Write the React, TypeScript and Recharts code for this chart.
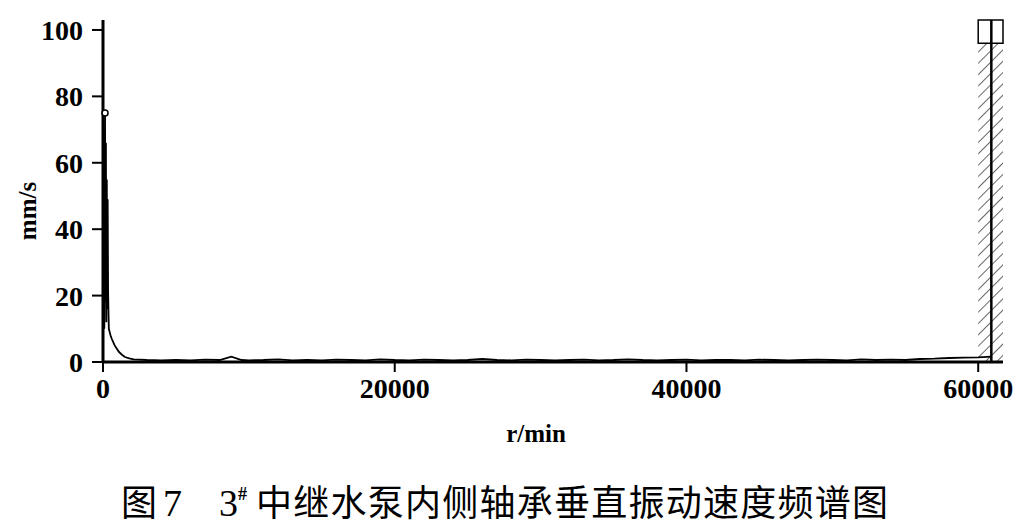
import { Line, LineChart, ReferenceArea, ReferenceDot, ReferenceLine, XAxis, YAxis } from "recharts";

// spectrum points: speed (r/min) and vibration velocity (mm/s)
const rpm = [
  0, 30, 60, 90, 120, 140, 170, 200, 230, 260, 290, 320, 350, 400, 460, 520, 600, 700, 800,
  950, 1100, 1300, 1500, 1800, 2100, 2500, 3000, 4000, 5000, 6000, 7000, 8000, 8800, 9500,
  10000, 11000, 12000, 13000, 14000, 15000, 16000, 17000, 18000, 19000, 20000, 21000, 22000,
  23000, 24000, 25000, 26000, 27000, 28000, 29000, 30000, 31000, 32000, 33000, 34000, 35000,
  36000, 37000, 38000, 39000, 40000, 41000, 42000, 43000, 44000, 45000, 46000, 47000, 48000,
  49000, 50000, 51000, 52000, 53000, 54000, 55000, 56000, 57000, 58000, 59000, 60000, 60900,
];
const velocity = [
  0, 28, 62, 10, 58, 75, 18, 66, 12, 55, 16, 49, 21, 10, 9, 8, 7, 6, 5,
  4, 3, 2.2, 1.5, 1.1, 0.8, 0.7, 0.6, 0.5, 0.6, 0.5, 0.7, 0.6, 1.6, 0.6,
  0.5, 0.6, 0.8, 0.5, 0.6, 0.5, 0.7, 0.6, 0.5, 0.8, 0.6, 0.5, 0.7,
  0.6, 0.5, 0.6, 0.9, 0.6, 0.5, 0.7, 0.6, 0.5, 0.6, 0.7, 0.5, 0.6,
  0.8, 0.6, 0.5, 0.6, 0.7, 0.5, 0.6, 0.6, 0.5, 0.7, 0.6, 0.5, 0.6,
  0.7, 0.6, 0.5, 0.8, 0.6, 0.7, 0.6, 0.9, 1.0, 1.2, 1.3, 1.4, 1.6,
];

const xTicks = [0, 20000, 40000, 60000];
const yTicks = [0, 20, 40, 60, 80, 100];

// marker at the right edge: hatched band, top box, cursor line
const bandStart = 60000;
const bandEnd = 61700;
const boxBottom = 96;
const boxTop = 103;
const cursorRpm = 60900;
const peak = { rpm: 140, velocity: 75 };

const data = rpm.map((r, i) => ({ rpm: r, v: velocity[i] }));

const tickFont = {
  fontFamily: "'Liberation Serif', serif",
  fontWeight: 700,
  fontSize: 28,
  fill: "#000",
};

const labelFont = {
  fontFamily: "'Liberation Serif', serif",
  fontWeight: 700,
  fontSize: 25,
  fill: "#000",
};

export default function App() {
  return (
    <div style={{ position: "absolute", left: 0, top: 0, width: 1032, height: 532, background: "#fff" }}>
      <svg width={0} height={0} style={{ position: "absolute" }}>
        <defs>
          <pattern id="hatch" width={8} height={8} patternUnits="userSpaceOnUse" patternTransform="rotate(45)">
            <line x1={0} y1={0} x2={0} y2={8} stroke="#000" strokeWidth={1.2} />
          </pattern>
        </defs>
      </svg>
      <LineChart width={1032} height={460} data={data} margin={{ top: 20, right: 29, left: 30, bottom: 58 }}>
        <XAxis
          type="number"
          dataKey="rpm"
          domain={[0, bandEnd]}
          ticks={xTicks}
          allowDataOverflow
          tickSize={10}
          tickMargin={6}
          height={40}
          tick={tickFont}
          axisLine={{ stroke: "#000", strokeWidth: 3 }}
          tickLine={{ stroke: "#000", strokeWidth: 2 }}
          label={{
            content: () => (
              <text x={536} y={442} textAnchor="middle" style={labelFont}>
                r/min
              </text>
            ),
          }}
        />
        <YAxis
          type="number"
          domain={[0, boxTop]}
          ticks={yTicks}
          allowDataOverflow
          width={73}
          tickSize={11}
          tickMargin={9}
          tick={tickFont}
          axisLine={{ stroke: "#000", strokeWidth: 3 }}
          tickLine={{ stroke: "#000", strokeWidth: 2 }}
          label={{
            content: () => (
              <text
                x={27}
                y={211}
                transform="rotate(-90 27 211)"
                textAnchor="middle"
                dominantBaseline="central"
                style={labelFont}
              >
                mm/s
              </text>
            ),
          }}
        />
        <ReferenceArea x1={bandStart} x2={bandEnd} y1={0} y2={boxBottom} fill="url(#hatch)" fillOpacity={1} stroke="none" />
        <ReferenceArea x1={bandStart} x2={bandEnd} y1={boxBottom} y2={boxTop} fill="#fff" fillOpacity={1} stroke="#000" strokeWidth={1.5} />
        <ReferenceLine x={cursorRpm} stroke="#000" strokeWidth={2.5} />
        <Line
          type="linear"
          dataKey="v"
          stroke="#000"
          strokeWidth={1.8}
          dot={false}
          isAnimationActive={false}
        />
        <ReferenceDot x={peak.rpm} y={peak.velocity} r={3} fill="#fff" stroke="#000" strokeWidth={1.5} />
      </LineChart>
      <svg width={1032} height={72} style={{ position: "absolute", left: 0, top: 460 }}>
        <g fill="#000">
          <text x={121} y={56} fontFamily="'Noto Sans CJK SC'" fontSize={36}>图</text>
          <text x={163} y={56} fontFamily="'Liberation Serif', serif" fontSize={38}>7</text>
          <text x={219} y={56} fontFamily="'Liberation Serif', serif" fontSize={38}>3</text>
          <text x={238} y={40} fontFamily="'Liberation Serif', serif" fontWeight={700} fontSize={18}>#</text>
          <text x={256} y={56} fontFamily="'Noto Sans CJK SC'" fontSize={36} textLength={632} lengthAdjust="spacing">
            中继水泵内侧轴承垂直振动速度频谱图
          </text>
        </g>
      </svg>
    </div>
  );
}
